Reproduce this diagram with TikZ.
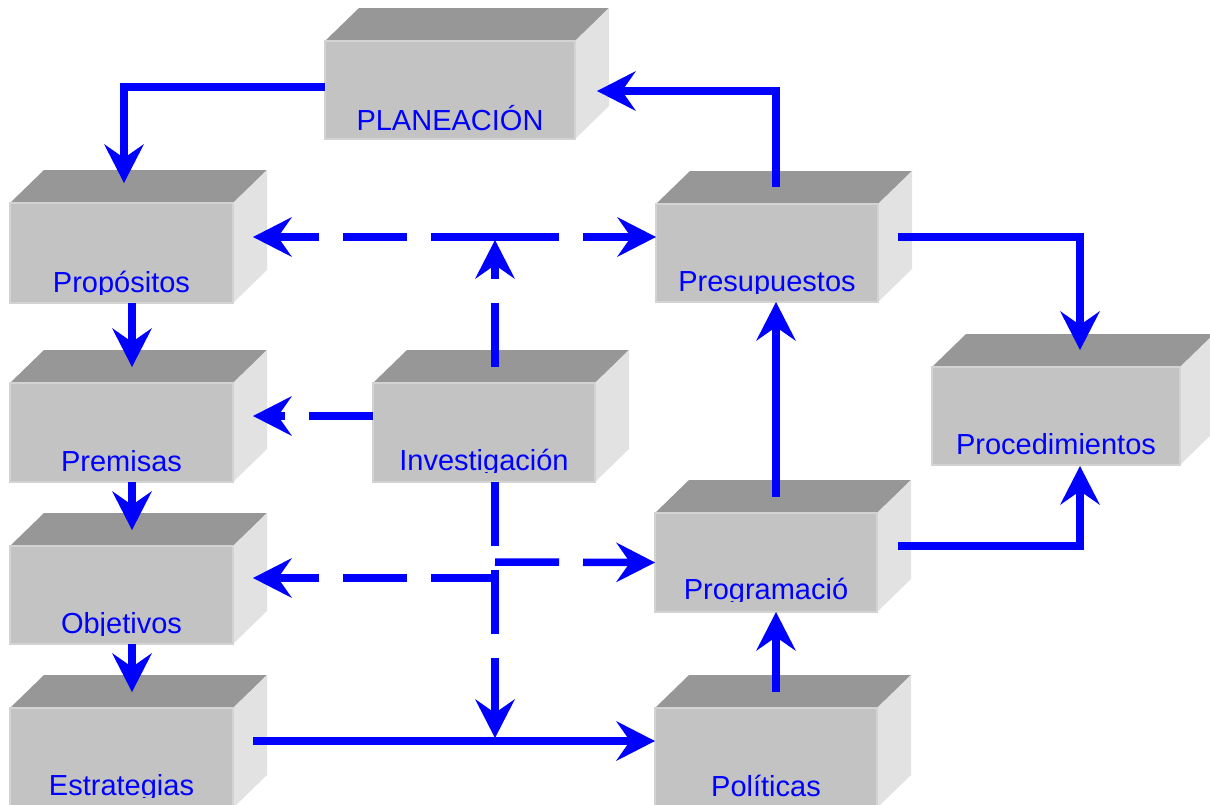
\documentclass[tikz,border=0pt]{standalone}
\usepackage{fontspec}
\setmainfont{Liberation Sans}
\usetikzlibrary{arrows.meta,fit}
\definecolor{topc}{HTML}{979797}
\definecolor{frontc}{HTML}{C3C3C3}
\definecolor{sidec}{HTML}{E2E2E2}
\definecolor{edgec}{HTML}{D3D3D3}
\definecolor{arrc}{HTML}{0000FF}
\tikzset{
  front/.style={fill=frontc, draw=edgec, line width=1.5pt, inner sep=0pt, outer sep=0pt},
  lbl/.style={font=\fontsize{29}{32}\selectfont, text=arrc, inner sep=0pt, anchor=base},
  bigtip/.tip={Stealth[length=39pt,width=40pt,inset=14pt,line width=0pt]},
  conn/.style={draw=arrc, line width=7.5pt, -bigtip},
  dconn/.style={conn, dash pattern=on 64pt off 24pt},
}
\newcommand\tdbox[5]{%
  \fill[topc] (#2,#3) -- (#2+34,#3-33) -- (#4+34,#3-33) -- (#4,#3) -- cycle;
  \fill[sidec] (#4,#3) -- (#4+34,#3-33) -- (#4+34,#5-33) -- (#4,#5) -- cycle;
  \node[front, fit={(#2,#3) (#4,#5)}] (#1) {};
}
\newcommand\tdlabel[4]{%
  \begin{scope}
    \clip (#2-160,#3-45) rectangle (#2+160,#3+2);
    \node[lbl] (#1) at (#2,#3) {#4};
  \end{scope}
}
\begin{document}
\begin{tikzpicture}[x=1pt,y=-1pt]
  \clip (0,0) rectangle (1210,804);
  \fill[white] (0,0) rectangle (1210,804);
  % boxes
  \tdbox{plan}{325}{41}{575}{139}
  \tdbox{prop}{10}{203}{233}{303}
  \tdbox{prem}{10}{383}{233}{482}
  \tdbox{obj}{10}{546}{233}{644}
  \tdbox{estr}{10}{708}{233}{808}
  \tdbox{inv}{373}{383}{595}{482}
  \tdbox{pres}{656}{204}{878}{302}
  \tdbox{proc}{932}{367}{1180}{465}
  \tdbox{prog}{655}{513}{877}{612}
  \tdbox{pol}{655}{708}{877}{808}
  % labels
  \tdlabel{planT}{450}{130}{PLANEACIÓN}
  \tdlabel{propT}{121.5}{292}{Propósitos}
  \tdlabel{premT}{121.5}{471}{Premisas}
  \tdlabel{objT}{121.5}{633}{Objetivos}
  \tdlabel{estrT}{121.5}{795}{Estrategias}
  \tdlabel{invT}{484}{470}{Investigación}
  \tdlabel{presT}{767}{291}{Presupuestos}
  \tdlabel{procT}{1056}{454}{Procedimientos}
  \tdlabel{progT}{766}{599}{Programació}
  \tdlabel{polT}{766}{796}{Políticas}
  % junction points
  \coordinate (jtop) at (495,237);
  \coordinate (jmid) at (495,562);
  \coordinate (jlow) at (495,578);
  \coordinate (jbot) at (495,738);
  % solid connectors
  \draw[conn] ([yshift=3pt]plan.west) -| ([xshift=2.5pt,yshift=20pt]prop.north);
  \draw[conn] ([xshift=9pt,yshift=17pt]pres.north) |- ([xshift=22pt,yshift=-1pt]plan.east);
  \draw[conn] ([xshift=20pt,yshift=16pt]pres.east) -| ([xshift=24pt,yshift=17pt]proc.north);
  \draw[conn] ([xshift=21pt,yshift=16.5pt]prog.east) -| ([xshift=24pt,yshift=-1pt]proc.south);
  \draw[conn] ([xshift=10pt,yshift=16pt]prog.north) -- ([xshift=9pt]pres.south);
  \draw[conn] ([xshift=10pt,yshift=16pt]pol.north) -- ([xshift=10pt]prog.south);
  \draw[conn] ([xshift=20pt,yshift=17pt]estr.east) -- ([yshift=17pt]pol.west);
  \draw[conn] ([xshift=10.5pt]prop.south) -- ([xshift=10.5pt,yshift=16pt]prem.north);
  \draw[conn] ([xshift=10.5pt]prem.south) -- ([xshift=10.5pt,yshift=16pt]obj.north);
  \draw[conn] ([xshift=10.5pt]obj.south) -- ([xshift=10.5pt,yshift=16pt]estr.north);
  % dashed connectors
  \draw[dconn] (jtop) -- ([xshift=20pt,yshift=16pt]prop.east);
  \draw[dconn] (jtop) -- ([yshift=16pt]pres.west);
  \draw[dconn] ([xshift=11pt,yshift=16.5pt]inv.north) -- ([yshift=-3pt]jtop);
  \draw[dconn] ([yshift=16.5pt]inv.west) -- ([xshift=20pt,yshift=16.5pt]prem.east);
  \draw[dconn] ([xshift=11pt]inv.south) -- (jbot);
  \draw[dconn] (jmid) -- (prog.west);
  \draw[dconn] (jlow) -- ([xshift=20pt,yshift=17pt]obj.east);
\end{tikzpicture}
\end{document}
